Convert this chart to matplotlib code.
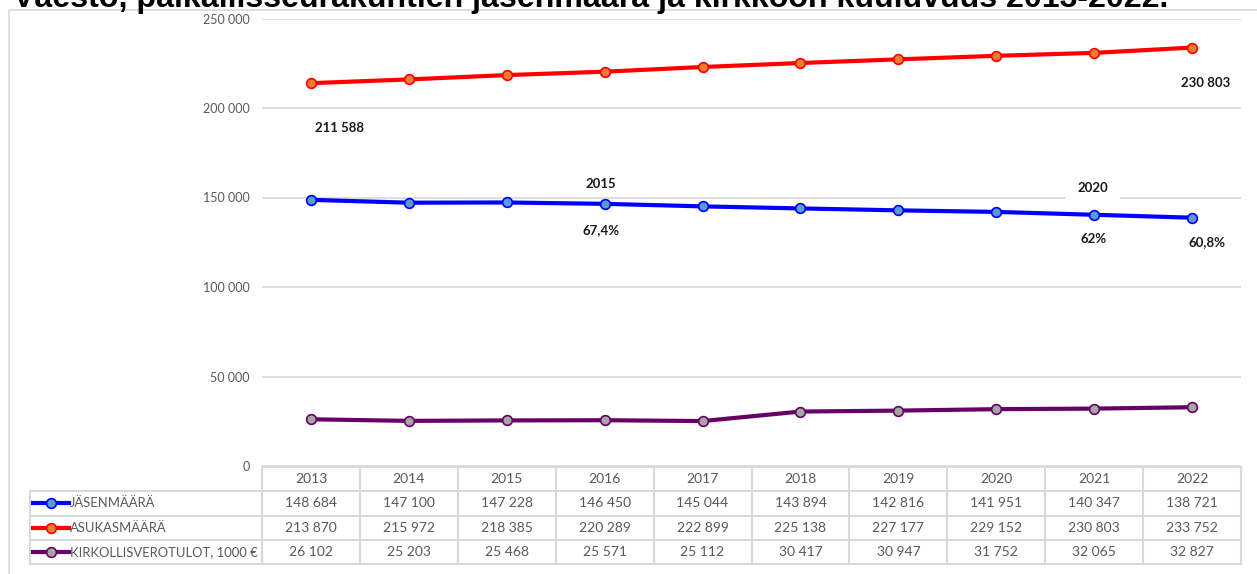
import matplotlib
matplotlib.use("Agg")
import matplotlib.pyplot as plt
from matplotlib.patches import Rectangle
from matplotlib.lines import Line2D

plt.rcParams['font.family'] = ['Lato', 'DejaVu Sans']

title = "Väestö, paikallisseurakuntien jäsenmäärä ja kirkkoon kuuluvuus 2013-2022."
years = [2013, 2014, 2015, 2016, 2017, 2018, 2019, 2020, 2021, 2022]
jasenmaara = [148684, 147100, 147228, 146450, 145044, 143894, 142816, 141951, 140347, 138721]
asukasmaara = [213870, 215972, 218385, 220289, 222899, 225138, 227177, 229152, 230803, 233752]
verotulot = [26102, 25203, 25468, 25571, 25112, 30417, 30947, 31752, 32065, 32827]
series_names = ["JÄSENMÄÄRÄ", "ASUKASMÄÄRÄ", "KIRKOLLISVEROTULOT, 1000 €"]
yticks = [0, 50000, 100000, 150000, 200000, 250000]

# free-standing labels: (series, index, text, dx px, dy px)
notes = [
    (1, 0, "211 588", 29, 45),
    (1, 9, "230 803", 14, 35),
    (0, 3, "2015", -4, -20),
    (0, 3, "67,4%", -4, 26),
    (0, 8, "2020", -1, -27),
    (0, 8, "62%", -1, 24),
    (0, 9, "60,8%", 15, 24),
]

series = [jasenmaara, asukasmaara, verotulot]
line_colors = ["#0000FF", "#FF0000", "#660066"]
face_colors = ["#5B9BD5", "#ED7D31", "#A5A5A5"]
grid_c = "#D9D9D9"
text_c = "#595959"

W, H = 1257, 574
fig = plt.figure(figsize=(W / 100, H / 100), dpi=100)


def fx(px):
    return px / W


def fy(py):
    return 1 - py / H


# outer chart border
fig.add_artist(Rectangle((fx(9), -0.1), 1.2, fy(9.5) + 0.1, transform=fig.transFigure,
                         fill=False, edgecolor=grid_c, lw=1.2))

ax = fig.add_axes([fx(262), fy(466), (1241 - 262) / W, 447.5 / H])
x = list(range(len(years)))
for vals, lc, fc in zip(series, line_colors, face_colors):
    ax.plot(x, vals, color=lc, lw=3, marker='o', ms=7, mfc=fc, mec=lc, mew=1.2,
            solid_capstyle='round', zorder=3)
ax.set_xlim(-0.5, len(years) - 0.5)
ax.set_ylim(0, 250000)
ax.set_yticks(yticks)
ax.set_yticklabels([f"{v:,}".replace(",", " ") for v in yticks])
ax.tick_params(axis='y', length=0, pad=9, labelsize=9, labelcolor=text_c)
ax.set_xticks([])
for s in ax.spines.values():
    s.set_visible(False)
ax.grid(axis='y', color=grid_c, lw=1.2)
ax.set_axisbelow(True)

for si, idx, txt, dx, dy in notes:
    kw = {}
    if txt == "2020":
        kw['bbox'] = dict(boxstyle='square,pad=0.9', fc='white', ec='none')
    ax.annotate(txt, (idx, series[si][idx]), xytext=(dx * 0.72, -dy * 0.72),
                textcoords='offset points', ha='center', va='center',
                fontsize=9.5, fontweight='bold', color='#1a1a1a', zorder=4, **kw)

# data table under the plot
left_extra = (262 - 30) / 97.9
tab = fig.add_axes([fx(30), fy(564), (1241 - 30) / W, 97 / H])
tab.set_xlim(-0.5 - left_extra, len(years) - 0.5)
tab.set_ylim(4, 0)
tab.axis('off')
x0 = -0.5 - left_extra
tab.plot([-0.5, len(years) - 0.5], [0, 0], color=grid_c, lw=1.5, clip_on=False)
for r in range(1, 5):
    tab.plot([x0, len(years) - 0.5], [r, r], color=grid_c, lw=1.5, clip_on=False)
tab.plot([x0, x0], [1, 4], color=grid_c, lw=1.5, clip_on=False)
for k in range(len(years) + 1):
    tab.plot([k - 0.5, k - 0.5], [0, 4], color=grid_c, lw=1.5, clip_on=False)

for i, yr in enumerate(years):
    tab.text(i, 0.5, str(yr), ha='center', va='center', fontsize=10, color=text_c)
for r, (vals, name, lc, fc) in enumerate(zip(series, series_names, line_colors, face_colors)):
    yrow = r + 1.5
    for i, v in enumerate(vals):
        tab.text(i, yrow, f"{v:,}".replace(",", " "), ha='center', va='center',
                 fontsize=10, color=text_c)
    k0 = x0 + 3 / 97.9
    k1 = x0 + 39 / 97.9
    tab.add_line(Line2D([k0, k1], [yrow, yrow], color=lc, lw=3, clip_on=False))
    tab.plot([(k0 + k1) / 2], [yrow], marker='o', ms=7, mfc=fc, mec=lc, mew=1.2,
             clip_on=False)
    tab.text(x0 + 40 / 97.9, yrow, name, ha='left', va='center', fontsize=9.4,
             color=text_c)

# title, top part cut off by the canvas edge as in the original
t = fig.text(fx(13), fy(7), title, ha='left', va='baseline', fontsize=20,
             fontweight='bold', family='Liberation Sans', color='black')
r = fig.canvas.get_renderer()
w = t.get_window_extent(renderer=r).width
t.set_fontsize(20 * 1155 / w)

fig.savefig("out.png", dpi=100)
